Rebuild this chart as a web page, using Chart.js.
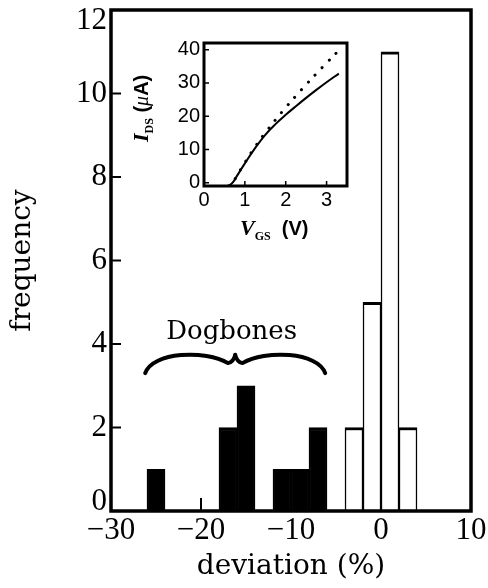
<!DOCTYPE html>
<html>
<head>
<meta charset="utf-8">
<script src="https://cdn.jsdelivr.net/npm/chart.js@4"></script>
<style>
  html, body { margin: 0; padding: 0; background: #fff; }
  #wrap { position: relative; width: 488px; height: 588px; }
  #main { position: absolute; left: 0; top: 0; }
  #inset { position: absolute; left: 120px; top: 30px; }
</style>
</head>
<body>
<div id="wrap">
  <canvas id="main" width="488" height="588"></canvas>
  <canvas id="inset" width="240" height="225"></canvas>
</div>
<script>
// histogram: bin centres (bins are 2 % wide) and counts
const dogboneBins = [-25, -17, -15, -11, -9, -7];
const dogboneCounts = [1, 2, 3, 1, 1, 2];
const otherBins = [-3, -1, 1, 3];
const otherCounts = [2, 5, 11, 2];
const devTicks = [-30, -20, -10, 0, 10];
const freqTicks = [0, 2, 4, 6, 8, 10, 12];

// inset: I-V curves
const vgs = [0.6, 0.7, 0.8, 1.0, 1.25, 1.5, 1.75, 2.0, 2.25, 2.5, 2.75, 3.0, 3.3];
const idsSolid = [-1, 0, 1.9, 5.8, 10.4, 14.4, 17.6, 20.4, 23.0, 25.5, 27.9, 30.2, 32.8];
const idsDotted = [-1, 0, 2.0, 6.0, 10.8, 15.0, 18.9, 22.6, 26.1, 29.5, 32.8, 36.0, 39.8];
const vTicks = [0, 1, 2, 3];
const iTicks = [0, 10, 20, 30, 40];

const pts = (xs, ys) => xs.map((x, i) => ({ x: x, y: ys[i] }));
const minus = v => String(v).replace('-', '\u2212');

// box around the plot area + inward tick marks
const frame = {
  id: 'frame',
  afterDraw(chart, args, o) {
    const { ctx, chartArea: a, scales: { x, y } } = chart;
    ctx.save();
    ctx.strokeStyle = '#000';
    ctx.lineWidth = o.tickWidth;
    ctx.beginPath();
    o.xTicks.forEach(v => {
      const px = x.getPixelForValue(v);
      ctx.moveTo(px, a.bottom);
      ctx.lineTo(px, a.bottom - o.xLen);
    });
    o.yTicks.forEach(v => {
      const py = y.getPixelForValue(v);
      ctx.moveTo(a.left, py);
      ctx.lineTo(a.left + o.yLen, py);
    });
    ctx.stroke();
    ctx.lineWidth = o.width;
    ctx.strokeRect(a.left, a.top, a.right - a.left, a.bottom - a.top);
    ctx.restore();
  }
};

// "Dogbones" label with curly brace
const dogbones = {
  id: 'dogbones',
  afterDatasetsDraw(chart) {
    const { ctx, scales: { x, y } } = chart;
    const x0 = x.getPixelForValue(-26.2), x1 = x.getPixelForValue(-6.2);
    const xc = (x0 + x1) / 2, half = (x1 - x0) / 2;
    const yb = y.getPixelForValue(3.3), yt = y.getPixelForValue(3.74);
    const h = yb - yt;
    ctx.save();
    ctx.strokeStyle = '#000';
    ctx.lineWidth = 4;
    ctx.lineCap = 'round';
    ctx.lineJoin = 'round';
    [1, -1].forEach(s => {
      const sx = s > 0 ? x0 : x1;
      ctx.beginPath();
      ctx.moveTo(sx, yb);
      ctx.bezierCurveTo(sx + s * 0.08 * half, yt - 0.17 * h,
                        sx + s * 0.67 * half, yt - 0.28 * h,
                        xc - s * 0.08 * half, yt + 0.45 * h);
      ctx.quadraticCurveTo(xc - s * 0.02 * half, yt + 0.4 * h, xc, yt);
      ctx.stroke();
    });
    ctx.fillStyle = '#000';
    ctx.font = '26px "DejaVu Serif"';
    ctx.textAlign = 'center';
    ctx.textBaseline = 'alphabetic';
    ctx.fillText('Dogbones', x.getPixelForValue(-16.6), y.getPixelForValue(4.13));
    ctx.restore();
  }
};

// top and bottom labels sit inside the frame, like the original
const yLabel = v => v === 12 ? ['', '12'] : (v === 0 ? ['0', ''] : String(v));
const yFont = c => {
  const v = c.tick ? c.tick.value : null;
  return { family: 'Liberation Serif', size: 31, lineHeight: v === 12 ? 0.71 : (v === 0 ? 0.58 : 1.2) };
};

new Chart(document.getElementById('main'), {
  type: 'bar',
  data: {
    datasets: [
      { data: pts(dogboneBins, dogboneCounts), backgroundColor: '#000', borderColor: '#000' },
      { data: pts(otherBins, otherCounts), backgroundColor: '#fff', borderColor: '#000' }
    ]
  },
  options: {
    responsive: false,
    animation: false,
    devicePixelRatio: 1,
    layout: { padding: { top: 10, right: 17, left: 0, bottom: 0 } },
    datasets: {
      bar: {
        grouped: false,
        barPercentage: 1,
        categoryPercentage: 1,
        borderWidth: { top: 3, left: 1.5, right: 1.5, bottom: 0 }
      }
    },
    plugins: {
      legend: { display: false },
      tooltip: { enabled: false },
      frame: { xTicks: devTicks, yTicks: freqTicks, xLen: 13, yLen: 10, tickWidth: 2, width: 3.5 }
    },
    scales: {
      x: {
        type: 'linear', min: -30, max: 10, offset: false,
        afterBuildTicks: s => { s.ticks = devTicks.map(v => ({ value: v })); },
        afterFit: s => { s.height = 77; s.paddingLeft = 0; s.paddingRight = 0; },
        grid: { display: false, drawTicks: false },
        border: { display: false },
        ticks: { color: '#000', padding: 1, maxRotation: 0, font: { family: 'Liberation Serif', size: 31 }, callback: minus },
        title: { display: true, text: 'deviation (%)', color: '#000', padding: { top: 0, bottom: 4 },
                 font: { family: 'DejaVu Serif', size: 28 } }
      },
      y: {
        min: 0, max: 12,
        afterBuildTicks: s => { s.ticks = freqTicks.map(v => ({ value: v })); },
        afterFit: s => { s.width = 111; s.paddingTop = 0; s.paddingBottom = 0; },
        grid: { display: false, drawTicks: false },
        border: { display: false },
        ticks: { color: '#000', padding: 4, font: yFont, callback: yLabel },
        title: { display: true, text: 'frequency', color: '#000', padding: { top: 6, bottom: 0 },
                 font: { family: 'DejaVu Serif', size: 28 } }
      }
    }
  },
  plugins: [frame, dogbones]
});

// axis titles of the inset, with subscripts
const insetTitles = {
  id: 'insetTitles',
  afterDraw(chart) {
    const { ctx, chartArea: a } = chart;
    const run = (parts, x0, y0) => {
      let x = x0;
      parts.forEach(([t, f, dy]) => {
        ctx.font = f;
        ctx.fillText(t, x, y0 + dy);
        x += ctx.measureText(t).width;
      });
    };
    ctx.save();
    ctx.fillStyle = '#000';
    ctx.textBaseline = 'alphabetic';
    ctx.textAlign = 'left';
    run([
      ['V', 'italic bold 22px "Liberation Serif"', 0],
      ['GS', 'bold 12px "Liberation Serif"', 5],
      ['  (V)', 'bold 20px "Liberation Sans"', 0]
    ], a.left + 36, a.bottom + 49);
    ctx.translate(a.left - 56, a.bottom - 44);
    ctx.rotate(-Math.PI / 2);
    run([
      ['I', 'italic bold 22px "Liberation Serif"', 0],
      ['DS', 'bold 12px "Liberation Serif"', 5],
      [' (', 'bold 20px "Liberation Sans"', 0],
      ['\u03bc', 'italic 20px "Liberation Serif"', 0],
      ['A)', 'bold 20px "Liberation Sans"', 0]
    ], 0, 0);
    ctx.restore();
  }
};

new Chart(document.getElementById('inset'), {
  type: 'line',
  data: {
    datasets: [
      { data: pts(vgs, idsSolid), borderColor: '#000', borderWidth: 2 },
      { data: pts(vgs, idsDotted), borderColor: '#000', borderWidth: 3,
        borderDash: [0.1, 10], borderCapStyle: 'round' }
    ]
  },
  options: {
    responsive: false,
    animation: false,
    devicePixelRatio: 1,
    layout: { padding: { top: 13, right: 13, left: 0, bottom: 0 } },
    elements: { point: { radius: 0 }, line: { tension: 0.4 } },
    plugins: {
      legend: { display: false },
      tooltip: { enabled: false },
      frame: { xTicks: vTicks, yTicks: iTicks, xLen: 5, yLen: 5, tickWidth: 1.5, width: 3 }
    },
    scales: {
      x: {
        type: 'linear', min: 0, max: 3.5,
        afterBuildTicks: s => { s.ticks = vTicks.map(v => ({ value: v })); },
        afterFit: s => { s.height = 69; s.paddingLeft = 0; s.paddingRight = 0; },
        grid: { display: false, drawTicks: false },
        border: { display: false },
        ticks: { color: '#000', padding: 2, maxRotation: 0, font: { family: 'Liberation Sans', size: 20 } }
      },
      y: {
        min: -1, max: 42,
        afterBuildTicks: s => { s.ticks = iTicks.map(v => ({ value: v })); },
        afterFit: s => { s.width = 84; s.paddingTop = 0; s.paddingBottom = 0; },
        grid: { display: false, drawTicks: false },
        border: { display: false },
        ticks: { color: '#000', padding: 4, font: { family: 'Liberation Sans', size: 20 } }
      }
    }
  },
  plugins: [frame, insetTitles]
});
</script>
</body>
</html>
